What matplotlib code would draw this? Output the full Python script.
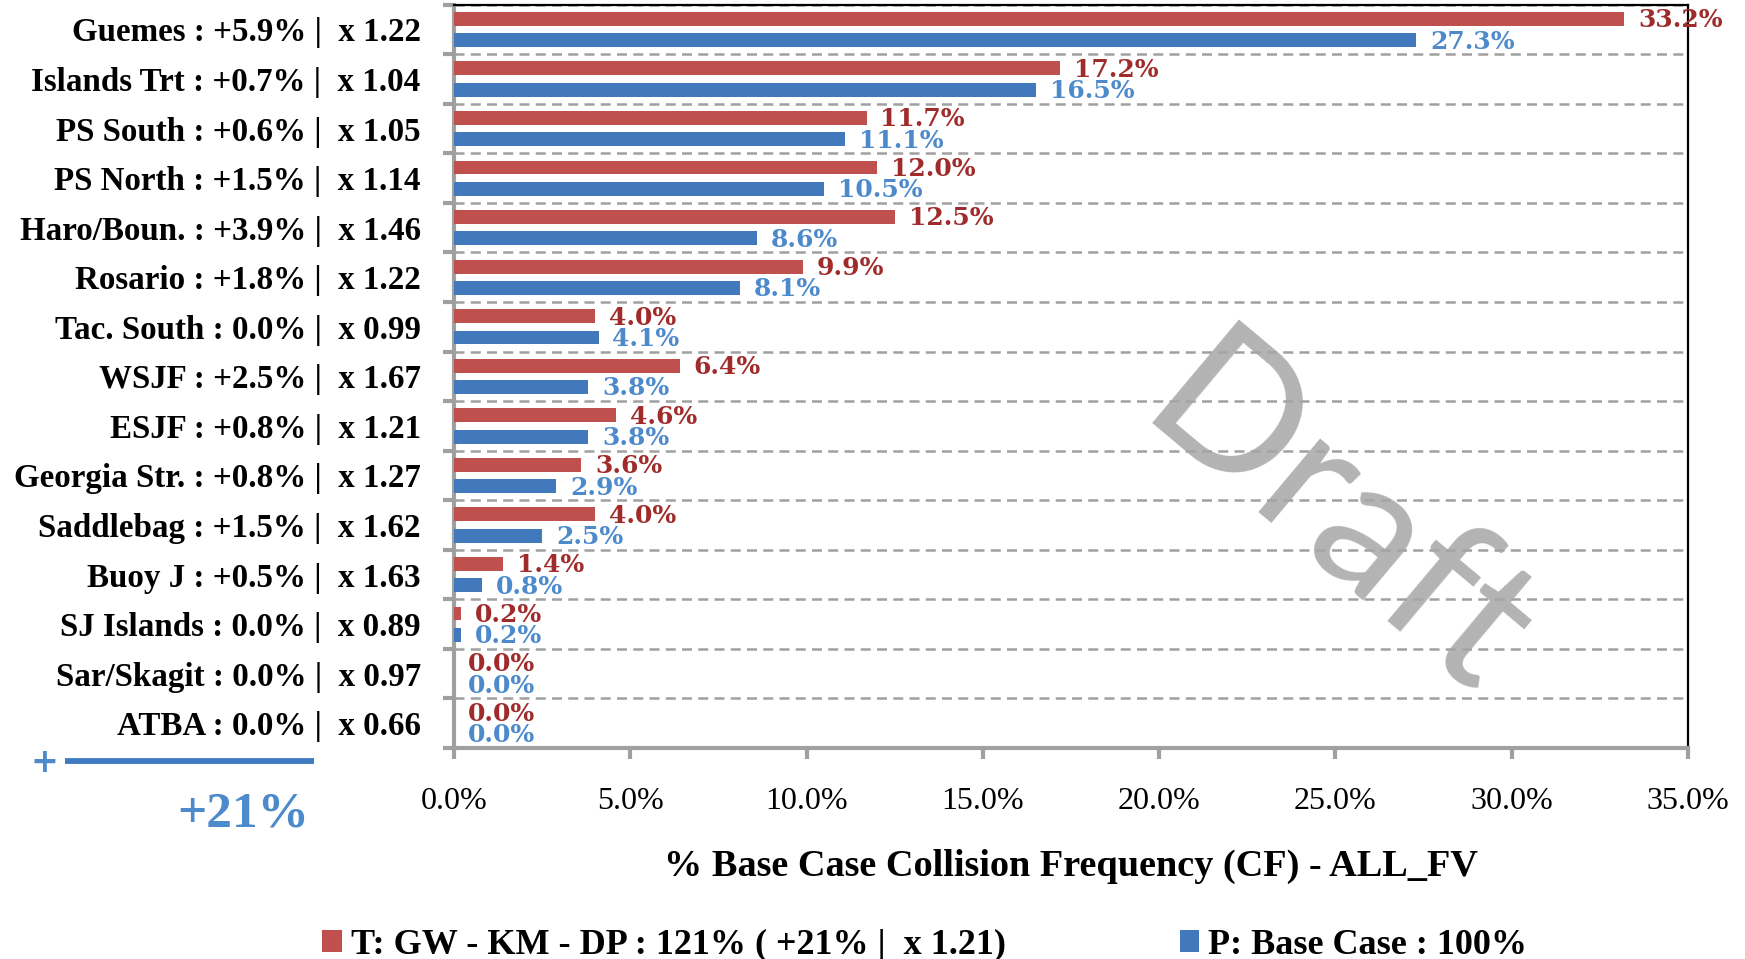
import matplotlib.pyplot as plt
import numpy as np

# Chart data

zones = ['Guemes', 'Islands Trt', 'PS South', 'PS North', 'Haro/Boun.', 'Rosario',
         'Tac. South', 'WSJF', 'ESJF', 'Georgia Str.', 'Saddlebag', 'Buoy J',
         'SJ Islands', 'Sar/Skagit', 'ATBA']
change = [5.9, 0.7, 0.6, 1.5, 3.9, 1.8, 0.0, 2.5, 0.8, 0.8, 1.5, 0.5, 0.0, 0.0, 0.0]
factor = [1.22, 1.04, 1.05, 1.14, 1.46, 1.22, 0.99, 1.67, 1.21, 1.27, 1.62, 1.63, 0.89, 0.97, 0.66]

t_case = [33.2, 17.2, 11.7, 12.0, 12.5, 9.9, 4.0, 6.4, 4.6, 3.6, 4.0, 1.4, 0.2, 0.0, 0.0]
p_case = [27.3, 16.5, 11.1, 10.5, 8.6, 8.1, 4.1, 3.8, 3.8, 2.9, 2.5, 0.8, 0.2, 0.0, 0.0]

t_name = 'T: GW - KM - DP : 121% ( +21% |  x 1.21)'
p_name = 'P: Base Case : 100%'
x_ticks = [0, 5, 10, 15, 20, 25, 30, 35]

RED = '#C0504D'
BLUE = '#4279BD'
RED_TXT = '#A02B2B'
BLUE_TXT = '#4D8ACB'
GRAY = '#A0A0A0'
SERIF = 'Liberation Serif'


def make_label(name, d, f):
    sign = '+' if d > 0 else ''
    return f'{name} : {sign}{d:.1f}% |  x {f:.2f}'


labels = [make_label(n, d, f) for n, d, f in zip(zones, change, factor)]
n = len(zones)
y = np.arange(n)

fig = plt.figure(figsize=(17.45, 9.59), dpi=100)
ax = fig.add_axes([0.2602, 0.22, 0.7071, 0.7751])

bars_t = ax.barh(y - 0.215, t_case, height=0.28, color=RED, zorder=3)
bars_p = ax.barh(y + 0.215, p_case, height=0.28, color=BLUE, zorder=3)

# value labels next to each bar
for bars, vals, col in [(bars_t, t_case, RED_TXT), (bars_p, p_case, BLUE_TXT)]:
    for b, v in zip(bars, vals):
        ax.annotate(f'{v:.1f}%', (v, b.get_y() + b.get_height() / 2),
                    xytext=(10, -1), textcoords='offset points',
                    ha='left', va='center', color=col, fontsize=18,
                    fontweight='bold', family='DejaVu Serif', zorder=4,
                    annotation_clip=False)

ax.set_xlim(0, 35)
ax.set_ylim(n - 0.5, -0.5)

ax.set_xticks(x_ticks)
ax.set_xticklabels([f'{v:.1f}%' for v in x_ticks], family=SERIF, fontsize=23)
ax.set_yticks(np.arange(n + 1) - 0.5)
ax.set_yticklabels([])
ax.set_yticks(y, labels, minor=True)
for lab in ax.get_yticklabels(minor=True):
    lab.set_family(SERIF)
    lab.set_fontweight('bold')
    lab.set_fontsize(23.8)

ax.tick_params(axis='y', which='major', length=8, width=3, color=GRAY, direction='out')
ax.tick_params(axis='y', which='minor', length=0, pad=24)
ax.tick_params(axis='x', length=8, width=3, color=GRAY, direction='out', pad=20)

ax.grid(axis='y', which='major', color=GRAY, linestyle=(0, (4, 2.5)), linewidth=1.8, zorder=1)

for side in ['left', 'bottom']:
    ax.spines[side].set_color(GRAY)
    ax.spines[side].set_linewidth(3)
for side in ['top', 'right']:
    ax.spines[side].set_color('black')
    ax.spines[side].set_linewidth(1.6)

ax.set_xlabel('% Base Case Collision Frequency (CF) - ALL_FV', family=SERIF,
              fontweight='bold', fontsize=27.5, labelpad=24)

# watermark
fig.text(0.766, 0.455, 'Draft', family='Lato', fontsize=136, color='#A6A6A6',
         alpha=0.85, rotation=-40, ha='center', va='center', rotation_mode='anchor',
         zorder=10)

# bottom-left total change marker
fig.text(0.0255, 0.2045, '+', family='DejaVu Sans', fontweight='bold', fontsize=24,
         color=BLUE_TXT, ha='center', va='center')
fig.add_artist(plt.Line2D([0.037, 0.18], [0.2065, 0.2065], color='#3F7BC0',
                          linewidth=4.2, solid_capstyle='butt'))
fig.text(0.177, 0.151, '+21%', family=SERIF, fontweight='bold', fontsize=37,
         color=BLUE_TXT, ha='right', va='center')

leg = fig.legend([bars_t, bars_p], [t_name, p_name], loc='center',
                 bbox_to_anchor=(0.53, 0.014), ncol=2, frameon=False,
                 prop={'family': SERIF, 'weight': 'bold', 'size': 26},
                 handlelength=0.55, handleheight=0.55, handletextpad=0.25,
                 columnspacing=4.8)

fig.savefig('out.png', dpi=100)
